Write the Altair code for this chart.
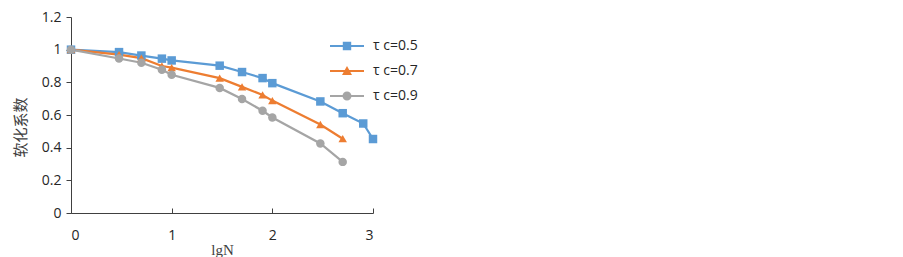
import altair as alt
import pandas as pd

# ---- data ----
lgN_long = [0, 0.477, 0.699, 0.903, 1, 1.477, 1.699, 1.903, 2, 2.477, 2.699, 2.903, 3]
lgN_short = [0, 0.477, 0.699, 0.903, 1, 1.477, 1.699, 1.903, 2, 2.477, 2.699]
tc05 = [1.0, 0.985, 0.964, 0.945, 0.934, 0.902, 0.863, 0.826, 0.795, 0.683, 0.611, 0.548, 0.453]
tc07 = [1.0, 0.97, 0.948, 0.9, 0.89, 0.826, 0.772, 0.723, 0.688, 0.542, 0.455]
tc09 = [1.0, 0.946, 0.92, 0.877, 0.846, 0.766, 0.698, 0.626, 0.585, 0.426, 0.313]
series = ["τ c=0.5", "τ c=0.7", "τ c=0.9"]
colors = ["#5B9BD5", "#ED7D31", "#A5A5A5"]
shapes = ["square", "triangle-up", "circle"]
# legend symbols: line segment + marker
legend_paths = [
    "M-1.7,-0.11H1.7V0.11H-1.7Z M-0.42,-0.42H0.42V0.42H-0.42Z",
    "M-1.7,-0.11H1.7V0.11H-1.7Z M0,-0.5L0.5,0.4L-0.5,0.4Z",
    "M-1.7,-0.11H1.7V0.11H-1.7Z M0.45,0A0.45,0.45 0 1,1 -0.45,0A0.45,0.45 0 1,1 0.45,0Z",
]
x_ticks = [0, 1, 2, 3]
y_ticks = [0, 0.2, 0.4, 0.6, 0.8, 1.0, 1.2]

rows = []
for s, xs, ys in zip(series, [lgN_long, lgN_short, lgN_short], [tc05, tc07, tc09]):
    for x, y in zip(xs, ys):
        rows.append({"lgN": x, "value": y, "series": s})
df = pd.DataFrame(rows)

axis_color = "#404040"
label_color = "#262626"
TOP = 9
H = 205 - TOP

xscale = alt.Scale(domain=[0, 3], nice=False, zero=False)
yscale = alt.Scale(domain=[0, 1.2], nice=False)
cscale = alt.Scale(domain=series, range=colors)

yaxis = alt.Axis(values=y_ticks, format=".1~f", grid=False, tickSize=5, labelPadding=5,
                 domainColor=axis_color, tickColor=axis_color, labelColor=label_color,
                 labelFont="Open Sans", labelFontSize=14,
                 title="软化系数", titleFont="Noto Sans CJK SC", titleFontSize=15,
                 titleFontWeight="normal", titleColor="#404040", titlePadding=13,
                 titleY=110)

leg_params = dict(orient="none", legendX=266, legendY=28 - TOP, title=None, padding=0,
                  symbolSize=400, symbolOpacity=1, symbolStrokeWidth=0, rowPadding=8,
                  labelOffset=16, labelFont="Open Sans", labelFontSize=14,
                  labelColor=label_color)

base = alt.Chart(df)

lines = base.mark_line(strokeWidth=2.25).encode(
    x=alt.X("lgN:Q", scale=xscale,
            axis=alt.Axis(orient="top", offset=-H, values=x_ticks, labels=False, domain=False,
                          grid=False, tickSize=5, tickColor=axis_color, title=None)),
    y=alt.Y("value:Q", scale=yscale, axis=yaxis),
    color=alt.Color("series:N", scale=cscale, legend=alt.Legend(**leg_params)),
    detail="series:N",
)

xaxis_bottom = alt.Axis(orient="bottom", values=x_ticks, ticks=False, grid=False,
                        domainColor=axis_color, labelColor=label_color, labelFont="Open Sans",
                        labelFontSize=14, labelPadding=15,
                        title="lgN", titleFont="Liberation Serif", titleFontSize=15,
                        titleFontWeight="normal", titleColor="#404040", titlePadding=0)

point_layers = []
for s, shp in zip(series, shapes):
    point_layers.append(
        base.transform_filter(alt.datum.series == s).mark_point(
            filled=True, opacity=1, size=72, shape=shp
        ).encode(
            x=alt.X("lgN:Q", scale=xscale, axis=None),
            y=alt.Y("value:Q", scale=yscale, axis=yaxis),
            color=alt.Color("series:N", scale=cscale, legend=alt.Legend(**leg_params)),
        )
    )

legend_layer = base.mark_point(filled=True, opacity=0, size=400).encode(
    x=alt.X("lgN:Q", scale=xscale, axis=xaxis_bottom),
    y=alt.Y("value:Q", scale=yscale, axis=yaxis),
    color=alt.Color("series:N", scale=cscale, legend=alt.Legend(**leg_params)),
    shape=alt.Shape("series:N", scale=alt.Scale(domain=series, range=legend_paths),
                    legend=alt.Legend(**leg_params)),
)

chart = alt.layer(lines, *point_layers, legend_layer).resolve_axis(
    x="independent"
).properties(
    width=302, height=H,
    padding={"left": 63, "top": TOP, "right": 522, "bottom": 44},
    autosize=alt.AutoSizeParams(type="none"),
).configure_view(strokeWidth=0)

chart.save("out.html", embed_options={"renderer": "svg", "actions": False})
